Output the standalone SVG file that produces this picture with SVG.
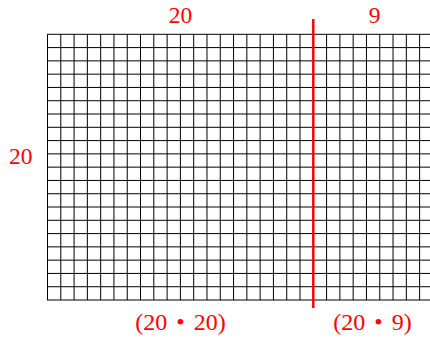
<svg xmlns="http://www.w3.org/2000/svg" width="430" height="341" viewBox="0 0 430 341">
<style>
.lab{font-family:"Liberation Serif","Times New Roman",serif;font-size:23.5px;fill:#ff0000;text-anchor:middle}
.pr{font-size:24px;word-spacing:3px}
.g{stroke:#000;stroke-width:1;fill:none}
</style>
<g id="grid">
<path class="g" d="M47.5 34.3V300M60.79 34.3V300M74.08 34.3V300M87.37 34.3V300M100.66 34.3V300M113.95 34.3V300M127.24 34.3V300M140.53 34.3V300M153.82 34.3V300M167.11 34.3V300M180.4 34.3V300M193.69 34.3V300M206.98 34.3V300M220.27 34.3V300M233.56 34.3V300M246.85 34.3V300M260.14 34.3V300M273.43 34.3V300M286.72 34.3V300M300.01 34.3V300M326.59 34.3V300M339.88 34.3V300M353.17 34.3V300M366.46 34.3V300M379.75 34.3V300M393.04 34.3V300M406.33 34.3V300M419.62 34.3V300"/>
<path class="g" d="M47 34.3H432M47 47.59H432M47 60.87H432M47 74.16H432M47 87.44H432M47 100.73H432M47 114.01H432M47 127.3H432M47 140.58H432M47 153.87H432M47 167.15H432M47 180.44H432M47 193.72H432M47 207.01H432M47 220.29H432M47 233.58H432M47 246.86H432M47 260.15H432M47 273.43H432M47 286.72H432M47 300H432"/>
</g>
<g id="connectors">
<line x1="313.3" y1="19" x2="313.3" y2="308" stroke="#ff0000" stroke-width="2.5"/>
</g>
<g id="labels">
<text class="lab" x="180.5" y="22.7">20</text>
<text class="lab" x="374.5" y="22.7">9</text>
<text class="lab" x="20.8" y="164.3">20</text>
<text class="lab pr" x="180.5" y="330" xml:space="preserve">(20 • 20)</text>
<text class="lab pr" x="372.5" y="330" xml:space="preserve">(20 • 9)</text>
</g>
</svg>
